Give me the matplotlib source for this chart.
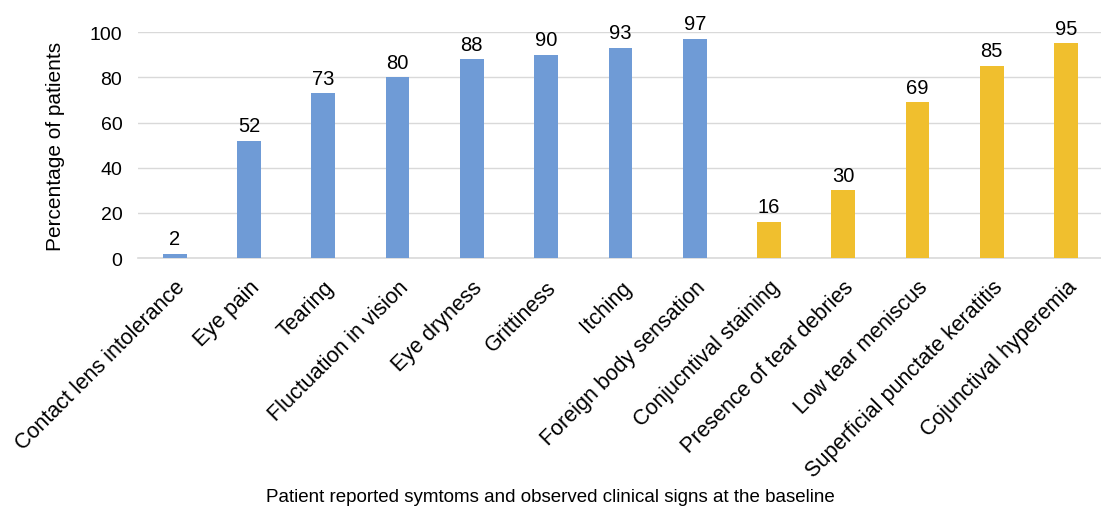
import matplotlib.pyplot as plt
from matplotlib.transforms import ScaledTranslation

plt.rcParams['font.family'] = ['Liberation Sans', 'DejaVu Sans']

# Data
categories = [
    "Contact lens intolerance", "Eye pain", "Tearing", "Fluctuation in vision",
    "Eye dryness", "Grittiness", "Itching", "Foreign body sensation",
    "Conjucntival staining", "Presence of tear debries", "Low tear meniscus",
    "Superficial punctate keratitis", "Cojunctival hyperemia",
]
values = [2, 52, 73, 80, 88, 90, 93, 97, 16, 30, 69, 85, 95]
groups = ["symptom"] * 8 + ["sign"] * 5
yticks = [0, 20, 40, 60, 80, 100]

group_colors = {"symptom": "#6F9BD6", "sign": "#F0BF2E"}

fig = plt.figure(figsize=(11.01, 5.10), dpi=100)
ax = fig.add_axes([0.125, 0.492, 0.877, 0.443])

x = list(range(len(categories)))
colors = [group_colors[g] for g in groups]
ax.bar(x, values, width=0.32, color=colors, zorder=3)

for xi, v in zip(x, values):
    ax.annotate(str(v), (xi, v), xytext=(0, 4), textcoords='offset points',
                ha='center', va='bottom', fontsize=14.5)

ax.set_xlim(-0.5, len(categories) - 0.5)
ax.set_ylim(0, 100)
ax.set_yticks(yticks)
ax.set_xticks(x)
ax.set_xticklabels(categories, rotation=45, ha='right', rotation_mode='anchor', fontsize=15.5)
# nudge the rotated labels a little to the right, like the original
shift = ScaledTranslation(5 / 100, 0, fig.dpi_scale_trans)
for lbl in ax.get_xticklabels():
    lbl.set_transform(lbl.get_transform() + shift)
ax.tick_params(axis='y', labelsize=14, length=0, pad=11)
ax.tick_params(axis='x', length=0, pad=13)

ax.grid(axis='y', color='#D9D9D9', linewidth=1, zorder=0)
for s in ['top', 'right', 'left']:
    ax.spines[s].set_visible(False)
ax.spines['bottom'].set_color('#D9D9D9')
ax.spines['bottom'].set_linewidth(1.2)

ax.set_ylabel("Percentage of patients", fontsize=15, labelpad=18)
fig.text(0.5, 0.024, "Patient reported symtoms and observed clinical signs at the baseline",
         ha='center', va='center', fontsize=13.5)

plt.savefig("out.png", dpi=100)
